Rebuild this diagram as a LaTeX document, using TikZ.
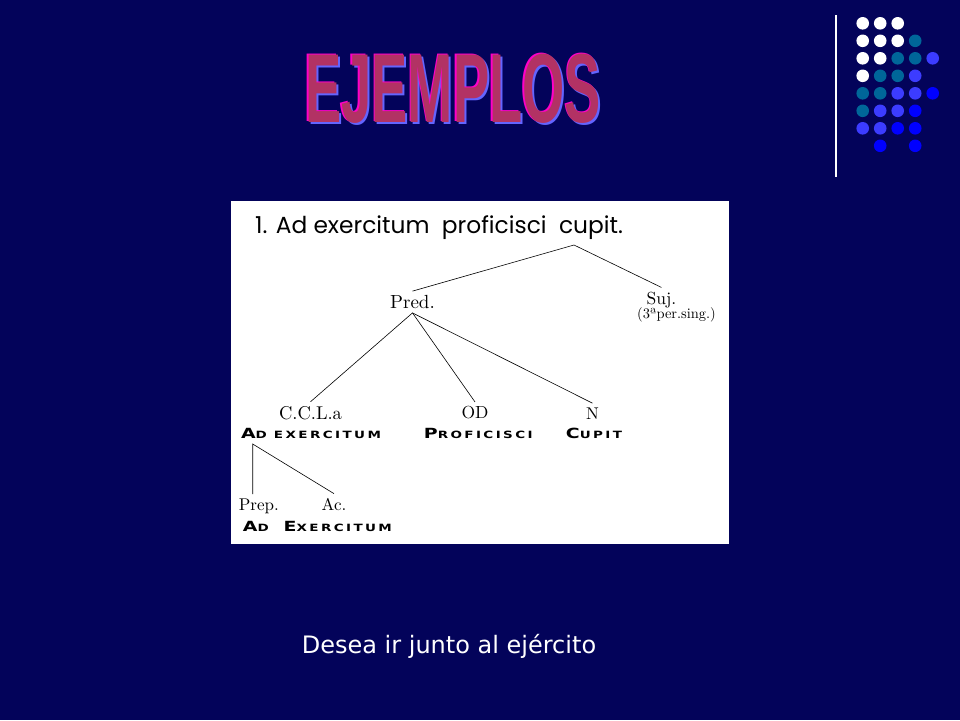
\documentclass[tikz,border=0pt]{standalone}
\usepackage{fontspec}
\usepackage{tikz}
\usetikzlibrary{positioning}
\newfontfamily\romfont{lmroman10-regular}[Extension=.otf]
\newfontfamily\capfont{DejaVu Sans}[FakeStretch=1.35,LetterSpace=24]
\newfontfamily\gothfont{Poppins}
\newfontfamily\titlefont{Liberation Sans}[FakeStretch=0.554]
\newfontfamily\verdfont{DejaVu Sans}
\newcommand\cpcap[2]{{\fontsize{14}{14}\selectfont #1}{\fontsize{10}{10}\selectfont #2}}

\begin{document}
\begin{tikzpicture}[x=1pt,y=-1pt,
	rom/.style={font=\romfont\fontsize{#1}{#1}\selectfont,inner sep=4pt,anchor=base},
	copper/.style={font=\capfont\bfseries,inner sep=1pt,anchor=base},
	branch/.style={draw=black,line width=0.6pt}]
  \definecolor{slide}{RGB}{3,3,90}
  \definecolor{dotteal}{RGB}{0,102,153}
  \definecolor{midblue}{RGB}{60,60,255}
  \definecolor{pureblue}{RGB}{0,0,255}
  \definecolor{wordfill}{RGB}{178,50,100}
  \definecolor{wordpink}{RGB}{255,0,200}
  \definecolor{wordblue}{RGB}{100,100,255}
	\fill [slide] (0,0) rectangle (960,720);
	% title
	\node [font=\titlefont\bfseries\fontsize{98}{98}\selectfont,text=wordblue,anchor=base,inner sep=0] (titleshadow) at (455,124.5) {EJEMPLOS};
	\node [font=\titlefont\bfseries\fontsize{98}{98}\selectfont,text=wordpink,anchor=base,inner sep=0] (titleedge) at (451.5,121) {EJEMPLOS};
	\node [font=\titlefont\bfseries\fontsize{98}{98}\selectfont,text=wordfill,anchor=base,inner sep=0] (title) at (453,122.5) {EJEMPLOS};
	% dots
	\draw [white,line width=1.5pt] (836,15) -- (836,177);
	\def\nodot{none}
	\foreach \row/\cols in {0/{white,white,white,none,none},1/{white,white,white,dotteal,none},2/{white,white,dotteal,dotteal,midblue},3/{white,dotteal,dotteal,midblue,none},4/{dotteal,dotteal,midblue,midblue,pureblue},5/{dotteal,midblue,midblue,pureblue,none},6/{midblue,midblue,pureblue,pureblue,none},7/{none,pureblue,none,pureblue,none}}{
		\foreach \c [count=\col from 0] in \cols {
			\ifx\c\nodot\else\fill [\c] (862.7+17.5*\col,23.3+17.5*\row) circle (6.3);\fi
		}
	}
	% tree
	\fill [white] (231,201) rectangle (729,544);
	\node [font=\gothfont\fontsize{23.3}{24}\selectfont,anchor=base west,inner sep=0] (sentence) at (255,233.3) {1. Ad exercitum\ \ proficisci\ \ cupit.};
	\coordinate (clause) at (574,245);
	\node [rom=19] (pred) at (412.5,308.5) {Pred.};
	\node [rom=17.5] (suj) at (661.5,304) {Suj.};
	\node [rom=14.5] (sujnote) at (676.5,318.5) {(3ªper.sing.)};
	\node [rom=18.5] (ccla) at (310.5,419) {C.C.L.a};
	\node [rom=17.5] (od) at (475,418.5) {OD};
	\node [rom=17] (n) at (592.5,419) {N};
	\node [copper] (adex) at (311,438) {\cpcap{A}{D EXERCITUM}};
	\node [copper] (prof) at (478.3,438) {\cpcap{P}{ROFICISCI}};
	\node [copper] (cup) at (594,438) {\cpcap{C}{UPIT}};
	\coordinate (adroot) at (252.7,444);
	\node [rom=17] (prep) at (258.8,510) {Prep.};
	\node [rom=17] (ac) at (334,510) {Ac.};
	\node [copper] (ad) at (255.8,531.7) {\cpcap{A}{D}};
	\node [copper] (exer) at (337.8,531.7) {\cpcap{E}{XERCITUM}};
	\draw [branch] (pred.north) -- (clause) -- (suj.north);
	\draw [branch] (pred.south) -- (ccla.north);
	\draw [branch] (pred.south) -- (od.north);
	\draw [branch] (pred.south) -- (n.north);
	\draw [branch] (adroot |- prep.north) -- (adroot) -- (ac.north);
	% caption
	\node [font=\verdfont\fontsize{24}{24}\selectfont,text=white,anchor=base,inner sep=0] (caption) at (449,653.5) {Desea ir junto al ejército};
\end{tikzpicture}
\end{document}
